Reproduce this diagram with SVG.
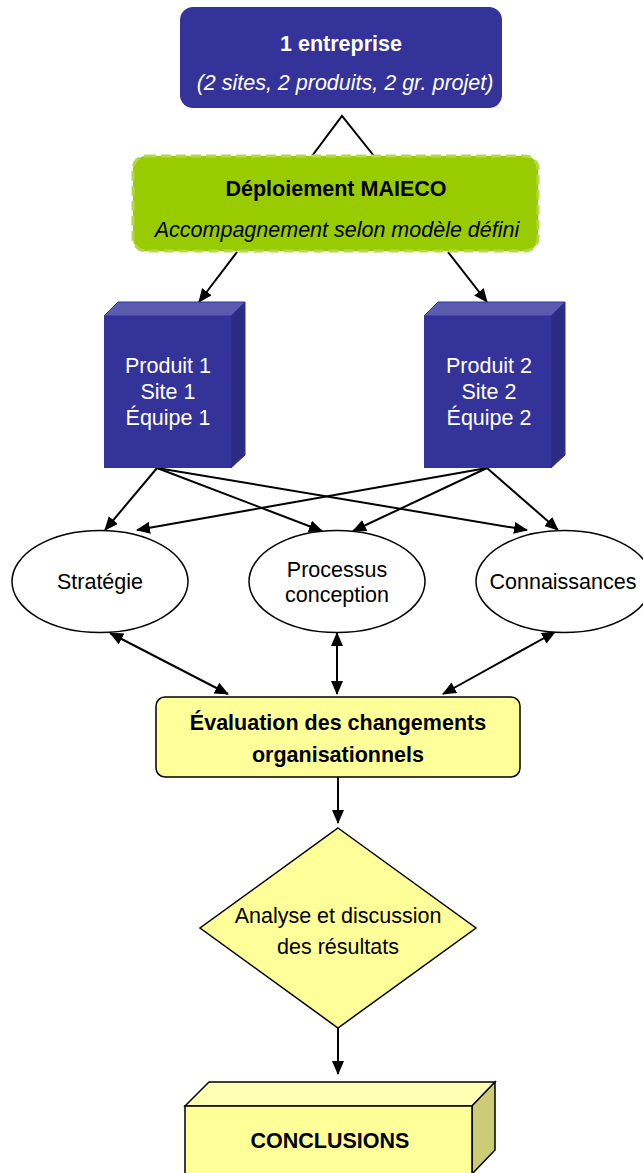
<svg xmlns="http://www.w3.org/2000/svg" width="643" height="1173" viewBox="0 0 643 1173">
<style>
text{font-family:"Liberation Sans",Arial,sans-serif;font-size:21.5px;text-anchor:middle}
.b{font-weight:bold}
.i{font-style:italic}
.w{fill:#ffffff}
.k{fill:#000000}
.ln{stroke:#000;stroke-width:2;fill:none}
.ar{marker-end:url(#ah)}
.da{marker-start:url(#ah);marker-end:url(#ah)}
.ell{fill:#ffffff;stroke:#000;stroke-width:1.5}
.yel{fill:#ffff99;stroke:#000;stroke-width:1.5}
</style>
<defs>
<marker id="ah" markerUnits="userSpaceOnUse" markerWidth="14" markerHeight="12" refX="13" refY="6" orient="auto-start-reverse" viewBox="0 0 14 12">
<path d="M0,0 L14,6 L0,12 z" fill="#000"/>
</marker>
</defs>

<g id="connectors">
<polyline class="ln" points="312,156 342,116 374,156"/>
<line class="ln ar" x1="237" y1="252" x2="199" y2="302"/>
<line class="ln ar" x1="448" y1="252" x2="487" y2="302"/>
<line class="ln ar" x1="157" y1="468" x2="105" y2="530"/>
<line class="ln ar" x1="157" y1="468" x2="322" y2="531"/>
<line class="ln ar" x1="157" y1="468" x2="527" y2="530"/>
<line class="ln ar" x1="487" y1="468" x2="137" y2="530"/>
<line class="ln ar" x1="487" y1="468" x2="353" y2="531"/>
<line class="ln ar" x1="487" y1="468" x2="558" y2="530"/>
<line class="ln da" x1="110" y1="633" x2="228" y2="694"/>
<line class="ln da" x1="337" y1="633" x2="337" y2="694"/>
<line class="ln da" x1="555" y1="632" x2="443" y2="694"/>
<line class="ln ar" x1="338" y1="777" x2="338" y2="823"/>
<line class="ln ar" x1="338" y1="1028" x2="338" y2="1074"/>
</g>

<g id="entreprise">
<rect x="180" y="7" width="322" height="101" rx="13" fill="#333399"/>
<text class="b w" x="341" y="51">1 entreprise</text>
<text class="i w" x="345" y="90">(2 sites, 2 produits, 2 gr. projet)</text>
</g>

<g id="deploiement">
<rect x="133" y="156" width="405" height="95" rx="13" fill="#99cc00" stroke="#b3d94a" stroke-width="3" stroke-dasharray="10 5"/>
<text class="b k" x="336" y="196">Déploiement MAIECO</text>
<text class="i k" x="337" y="237">Accompagnement selon modèle défini</text>
</g>

<g id="produit1">
<polygon points="104,316 118,302 245,302 231,316" fill="#5b5bb0" stroke="#333399"/>
<polygon points="231,316 245,302 245,455 231,468" fill="#2b2b85" stroke="#333399"/>
<rect x="104" y="316" width="127" height="152" fill="#333399"/>
<text class="w" x="168" y="373">Produit 1</text>
<text class="w" x="168" y="399">Site 1</text>
<text class="w" x="168" y="425">Équipe 1</text>
</g>

<g id="produit2">
<polygon points="424,316 438,302 565,302 551,316" fill="#5b5bb0" stroke="#333399"/>
<polygon points="551,316 565,302 565,455 551,468" fill="#2b2b85" stroke="#333399"/>
<rect x="424" y="316" width="127" height="152" fill="#333399"/>
<text class="w" x="489" y="373">Produit 2</text>
<text class="w" x="489" y="399">Site 2</text>
<text class="w" x="489" y="425">Équipe 2</text>
</g>

<g id="strategie">
<ellipse class="ell" cx="100" cy="581.5" rx="88" ry="51"/>
<text class="k" x="100" y="589">Stratégie</text>
</g>

<g id="processus">
<ellipse class="ell" cx="337" cy="581.5" rx="88" ry="51"/>
<text class="k" x="337" y="577">Processus</text>
<text class="k" x="337" y="602">conception</text>
</g>

<g id="connaissances">
<ellipse class="ell" cx="564" cy="581.5" rx="88" ry="51"/>
<text class="k" x="563" y="589">Connaissances</text>
</g>

<g id="evaluation">
<rect class="yel" x="156" y="697" width="364" height="80" rx="9"/>
<text class="b k" x="338" y="730">Évaluation des changements</text>
<text class="b k" x="338" y="762">organisationnels</text>
</g>

<g id="analyse">
<polygon class="yel" points="338,828 476,928 338,1028 200,928"/>
<text class="k" x="338" y="923">Analyse et discussion</text>
<text class="k" x="338" y="954">des résultats</text>
</g>

<g id="conclusions">
<polygon points="185,1106 209,1082 495,1082 472,1106" fill="#ffffb3" stroke="#000" stroke-width="1.5"/>
<polygon points="472,1106 495,1082 495,1150 472,1174" fill="#cccc77" stroke="#000" stroke-width="1.5"/>
<rect x="185" y="1106" width="287" height="70" fill="#ffff99" stroke="#000" stroke-width="1.5"/>
<text class="b k" x="330" y="1148">CONCLUSIONS</text>
</g>
</svg>
